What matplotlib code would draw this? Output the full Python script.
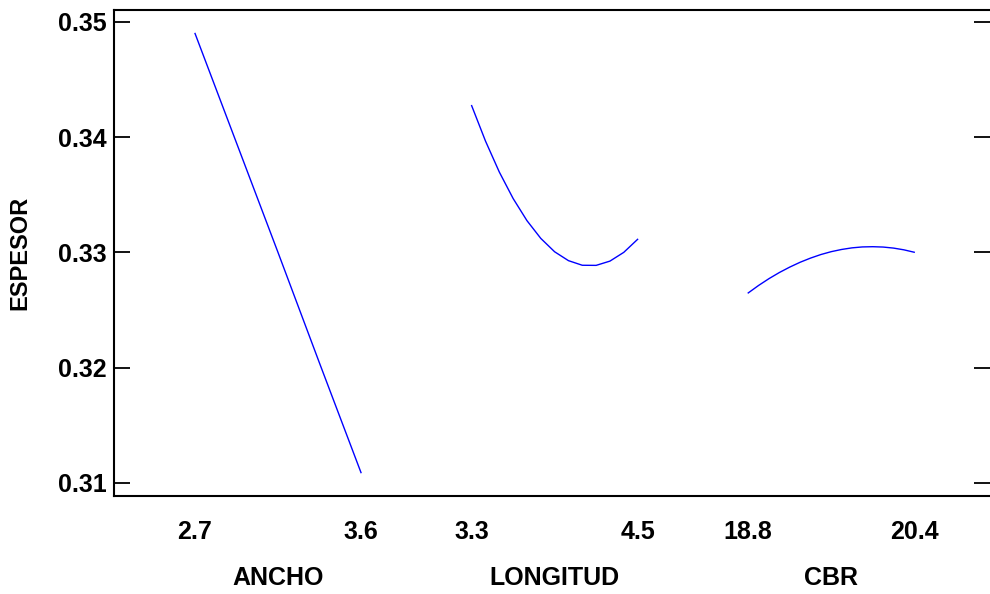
import numpy as np
import matplotlib
matplotlib.use('Agg')
import matplotlib.pyplot as plt
import matplotlib.transforms as mtransforms

plt.rcParams['font.family'] = ['Liberation Sans Narrow', 'Liberation Sans', 'DejaVu Sans']
plt.rcParams['font.weight'] = 'bold'

# Factores y rangos (bajo, alto)
factores = ['ANCHO', 'LONGITUD', 'CBR']
rangos = [(2.7, 3.6), (3.3, 4.5), (18.8, 20.4)]
etiquetas_x = ['2.7', '3.6', '3.3', '4.5', '18.8', '20.4']

# Valores (efectos principales sobre ESPESOR)
ancho_x = [2.7, 2.925, 3.15, 3.375, 3.6]
ancho_y = [0.3490, 0.3395, 0.3300, 0.3204, 0.3109]

longitud_x = [3.3, 3.4, 3.5, 3.6, 3.7, 3.8, 3.9, 4.0, 4.1, 4.2, 4.3, 4.4, 4.5]
longitud_y = [0.34274, 0.33967, 0.33698, 0.33468, 0.33276, 0.33122, 0.33006,
              0.32929, 0.32889, 0.32888, 0.32925, 0.33001, 0.33114]

cbr_x = [18.8, 18.9, 19.0, 19.1, 19.2, 19.3, 19.4, 19.5, 19.6, 19.7, 19.8,
         19.9, 20.0, 20.1, 20.2, 20.3, 20.4]
cbr_y = [0.32649, 0.32714, 0.32773, 0.32826, 0.32873, 0.32915, 0.32951, 0.32982,
         0.33007, 0.33026, 0.33040, 0.33048, 0.33050, 0.33047, 0.33038, 0.33023, 0.33002]

y_ticks = [0.31, 0.32, 0.33, 0.34, 0.35]

series = [(ancho_x, ancho_y), (longitud_x, longitud_y), (cbr_x, cbr_y)]

fig = plt.figure(figsize=(9.9, 5.94), dpi=100)
ax = fig.add_axes([0.1152, 0.165, 0.8848, 0.8182])

ancho_slot = 3.0
paso = 5.0
posiciones = []
for i, ((xs, ys), (lo, hi)) in enumerate(zip(series, rangos)):
    xs = np.array(xs)
    pos = i * paso + (xs - lo) / (hi - lo) * ancho_slot
    ax.plot(pos, ys, color='#0000ff', lw=1.0)
    posiciones += [i * paso, i * paso + ancho_slot]

ax.set_xlim(-1.464, 14.37)
ax.set_ylim(0.30887, 0.35104)

ax.set_xticks(posiciones)
ax.set_xticklabels(etiquetas_x, fontsize=18, fontweight='bold')
ax.tick_params(axis='x', length=0, pad=17)

ax.set_yticks(y_ticks)
ax.set_yticklabels([f'{v:.2f}' for v in y_ticks], fontsize=18, fontweight='bold')
ax.tick_params(axis='y', direction='in', length=11.5, width=1.3, right=True, pad=5)

for s in ['left', 'top', 'bottom']:
    ax.spines[s].set_linewidth(1.5)
ax.spines['right'].set_visible(False)

trans = mtransforms.blended_transform_factory(ax.transData, fig.transFigure)
for i, nombre in enumerate(factores):
    ax.text(i * paso + ancho_slot / 2, 1 - 578 / 594, nombre, transform=trans,
            ha='center', va='center', fontsize=18, fontweight='bold')

ax.set_ylabel('ESPESOR', fontsize=17, fontweight='bold')
ax.yaxis.set_label_coords(-0.094, 0.5)

fig.savefig('out.png', dpi=100)
